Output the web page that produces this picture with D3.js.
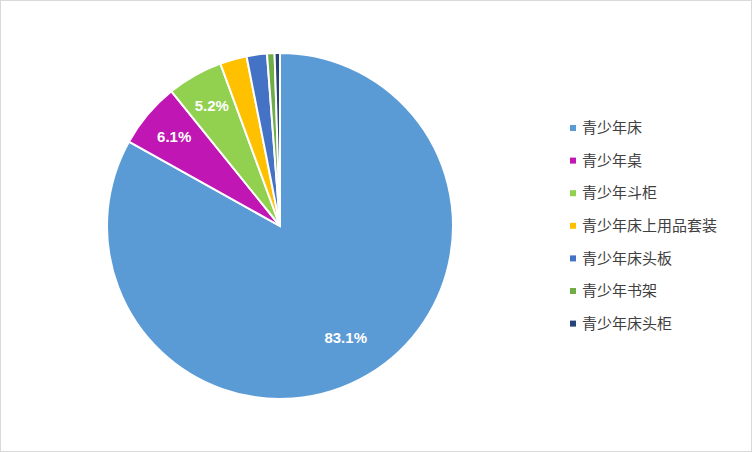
<!DOCTYPE html><html><head><meta charset="utf-8"><script src="https://d3js.org/d3.v7.min.js"></script>
<style>body{margin:0;background:#fff}</style></head><body><script>
const categories=["青少年床","青少年桌","青少年斗柜","青少年床上用品套装","青少年床头板","青少年书架","青少年床头柜"];
const values=[83.1,6.1,5.2,2.5,1.9,0.7,0.5];
const labels=["83.1%","6.1%","5.2%","","","",""];
const colors=["#5b9bd5","#c016b3","#92d050","#ffc000","#4472c4","#70ad47","#264478"];
const svg=d3.select("body").append("svg").attr("width",752).attr("height",452);
svg.append("rect").attr("x",0.5).attr("y",0.5).attr("width",751).attr("height",451).attr("fill","#fff").attr("stroke","#d9d9d9");
const g=svg.append("g").attr("transform","translate(280,226)");
const pie=d3.pie().sort(null).value(d=>d)(values);
const r=173;
const arc=d3.arc().innerRadius(0).outerRadius(r);
g.selectAll("path").data(pie).join("path").attr("d",arc).attr("fill",(d,i)=>colors[i]).attr("stroke","#fff").attr("stroke-width",2);
const la=d3.arc().innerRadius(r*0.8).outerRadius(r*0.8);
g.selectAll("text").data(pie).join("text").attr("transform",(d,i)=>{const c=(i===0?d3.arc().innerRadius(r*0.75).outerRadius(r*0.75):la).centroid(d);return `translate(${c})`;})
 .attr("text-anchor","middle").attr("dy","0.35em").attr("fill","#fff").attr("font-weight","bold").attr("font-size",15).attr("font-family","Liberation Sans, Arial, sans-serif").text((d,i)=>labels[i]);
const lg=svg.append("g").attr("transform","translate(570,128)");
categories.forEach((c,i)=>{const y=i*32.6;
 lg.append("rect").attr("x",0).attr("y",y-3).attr("width",6).attr("height",6).attr("fill",colors[i]);
 lg.append("text").attr("x",12).attr("y",y).attr("dy","0.35em").attr("font-size",15).attr("fill","#404040").attr("font-family","Noto Sans CJK SC").text(c);});
</script></body></html>
